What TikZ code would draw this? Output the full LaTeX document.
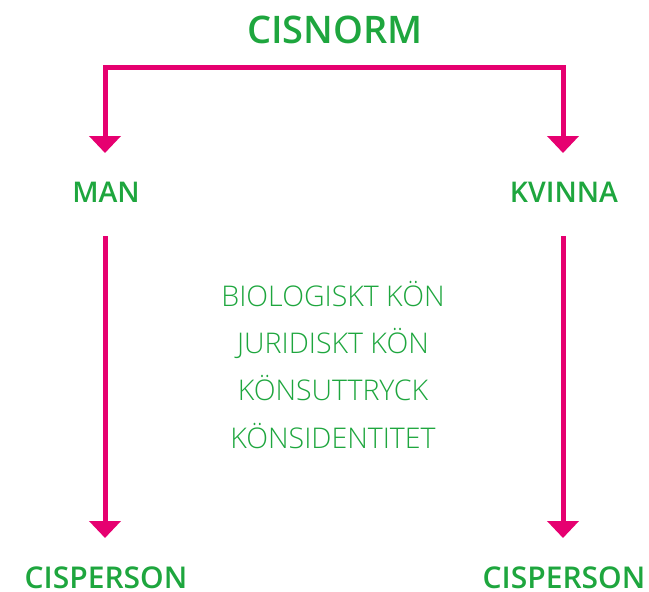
\documentclass[tikz,border=0pt]{standalone}
\usepackage{fontspec}
\setmainfont{Open Sans}
\newfontfamily\lightfont{Open Sans Light}
\newfontfamily\boldfont{Open Sans Semibold}
\usetikzlibrary{arrows.meta}
\definecolor{cgreen}{RGB}{30,166,62}
\definecolor{cpink}{RGB}{230,0,112}
\tikzset{
  lbl/.style={text=cgreen, font=\boldfont\fontsize{28.5}{32}\selectfont, inner sep=0pt, anchor=base},
  lblb/.style={text=cgreen, font=\boldfont\fontsize{30}{34}\selectfont, inner sep=0pt, anchor=base},
  bigl/.style={text=cgreen, font=\boldfont\fontsize{38}{42}\selectfont, inner sep=0pt, anchor=base},
  midl/.style={text=cgreen, font=\lightfont\fontsize{28.5}{32}\selectfont, inner sep=0pt, anchor=base},
  arr/.style={draw=cpink, line width=5pt, line join=miter, -{Triangle[width=31pt,length=17pt]}},
  arr2/.style={draw=cpink, line width=5pt, line join=miter, {Triangle[width=31pt,length=17pt]}-{Triangle[width=31pt,length=17pt]}}
}
\begin{document}
\begin{tikzpicture}[x=1pt,y=-1pt]
\useasboundingbox (0,0) rectangle (649,592);
\node[bigl] (cis) at (335,43) {CISNORM};
\node[lbl] (man) at (106,202) {MAN};
\node[lbl] (kv) at (564,202) {KVINNA};
\node[lblb] (cp1) at (106,588) {CISPERSON};
\node[lblb] (cp2) at (564,588) {CISPERSON};
\node[midl] (m1) at (333,306) {BIOLOGISKT KÖN};
\node[midl] (m2) at (333,353) {JURIDISKT KÖN};
\node[midl] (m3) at (333,400) {KÖNSUTTRYCK};
\node[midl] (m4) at (333,448) {KÖNSIDENTITET};
\coordinate (tl) at (105,153);
\coordinate (cl) at (105,67);
\coordinate (cr) at (563,67);
\coordinate (tr) at (563,153);
\draw[arr2] (tl) -- (cl) -- (cr) -- (tr);
\coordinate (ml) at (105,236);
\coordinate (mlt) at (105,538);
\coordinate (kl) at (563,236);
\coordinate (klt) at (563,538);
\draw[arr] (ml) -- (mlt);
\draw[arr] (kl) -- (klt);
\end{tikzpicture}
\end{document}
